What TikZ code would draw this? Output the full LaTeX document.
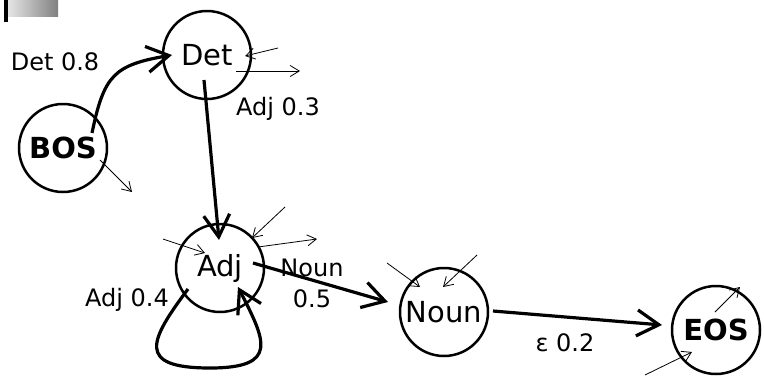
\documentclass[tikz,border=0pt]{standalone}
\usepackage{fontspec}
\setmainfont{DejaVu Sans}
\usetikzlibrary{arrows.meta,calc}

\begin{document}
\begin{tikzpicture}[x=1pt, y=-1pt,
    tagnode/.style={draw, circle, line width=2.5pt, minimum size=88pt,
                    inner sep=0pt, font=\fontsize{29}{30}\selectfont},
    endnode/.style={tagnode, font=\fontsize{29}{30}\selectfont\bfseries},
    lbl/.style={font=\fontsize{24}{31}\selectfont, align=center, inner sep=0pt},
    arr/.style={line width=3.2pt, -{Straight Barb[length=22pt, width=26pt]}},
    stub/.style={line width=0.8pt, -{Straight Barb[length=9pt, width=11pt]}}
  ]
  \useasboundingbox (0,0) rectangle (764,376);

  % header bar
  \fill[black] (4,0) rectangle (8,22);
  \shade[left color=black!10, right color=black!50] (8,0) rectangle (58,16);

  % states
  \node[endnode] (BOS) at (63,148) {BOS};
  \node[tagnode] (Det) at (207,55) {Det};
  \node[tagnode] (Adj) at (220,268) {Adj};
  \node[tagnode] (Noun) at (444,312) {Noun};
  \node[endnode] (EOS) at (716,330) {EOS};

  % transitions
  \draw[arr] ($(BOS)+(29,-15)$) .. controls +(12,-58) and +(-58,10) .. ($(Det)+(-35,0)$);
  \draw[arr] ($(Det)+(-3,25)$) -- ($(Adj)+(-1,-28)$);
  \draw[arr] ($(Adj)+(33,-5)$) -- ($(Noun)+(-56,-10)$);
  \draw[arr] ($(Noun)+(49,-1)$) -- ($(EOS)+(-54,-5)$);
  \draw[arr] ($(Adj)+(-32,21)$) .. controls +(-38,51) and +(-75,0) .. ($(Adj)+(-10,100)$)
                                .. controls +(70,0) and +(27,53) .. ($(Adj)+(18,19)$);

  % weights
  \node[lbl] (wdet) at (55,62) {Det 0.8};
  \node[lbl] (wadj) at (278,109) {Adj 0.3};
  \node[lbl] (wnoun) at (312,283) {Noun\\0.5};
  \node[lbl] (wloop) at (127,300) {Adj 0.4};
  \node[lbl] (weos) at (565,343) {ε 0.2};

  % loose pointers
  \draw[stub] ($(Det)+(71,-7)$) -- ($(Det)+(38,1)$);
  \draw[stub] ($(Det)+(29,16)$) -- ($(Det)+(93,16)$);
  \draw[stub] ($(BOS)+(37,12)$) -- ($(BOS)+(69,44)$);
  \draw[stub] ($(Adj)+(-57,-29)$) -- ($(Adj)+(-15,-15)$);
  \draw[stub] ($(Adj)+(65,-61)$) -- ($(Adj)+(32,-30)$);
  \draw[stub] ($(Adj)+(38,-21)$) -- ($(Adj)+(97,-29)$);
  \draw[stub] ($(Noun)+(-57,-49)$) -- ($(Noun)+(-24,-25)$);
  \draw[stub] ($(Noun)+(33,-57)$) -- ($(Noun)+(-1,-25)$);
  \draw[stub] ($(EOS)+(-1,-18)$) -- ($(EOS)+(24,-43)$);
  \draw[stub] ($(EOS)+(-71,45)$) -- ($(EOS)+(-24,22)$);
\end{tikzpicture}
\end{document}
